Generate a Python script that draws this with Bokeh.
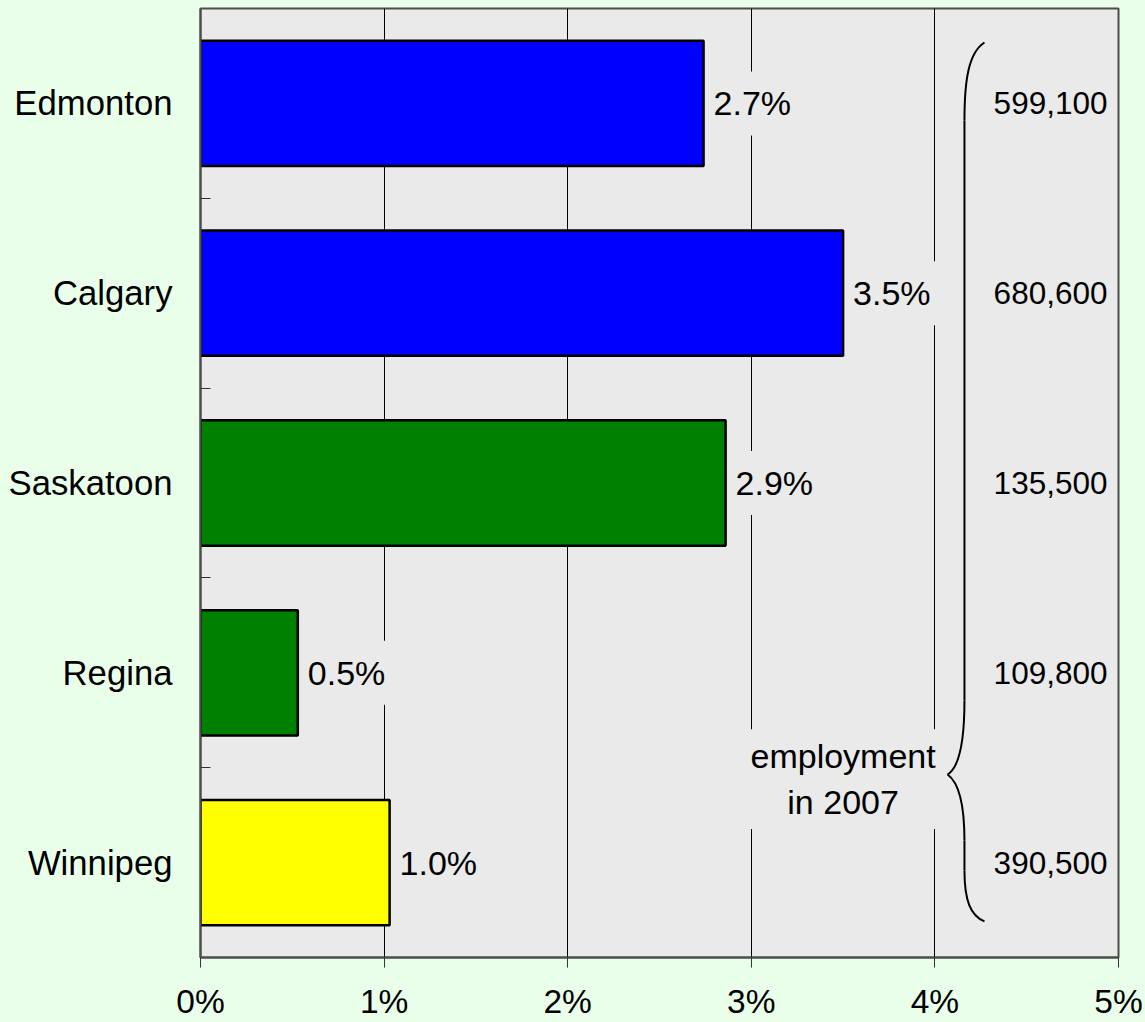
from bokeh.plotting import figure
from bokeh.models import ColumnDataSource, Range1d, FixedTicker
from bokeh.core.properties import value
from bokeh.embed import file_html
from bokeh.resources import INLINE

# ---- data ----
cities = ["Edmonton", "Calgary", "Saskatoon", "Regina", "Winnipeg"]
growth = [2.74, 3.50, 2.86, 0.53, 1.03]
growth_labels = ["2.7%", "3.5%", "2.9%", "0.5%", "1.0%"]
employment_2007 = ["599,100", "680,600", "135,500", "109,800", "390,500"]
bar_colors = ["#0000FF", "#0000FF", "#008000", "#008000", "#FFFF00"]
x_ticks = [0, 1, 2, 3, 4, 5]
x_tick_labels = ["0%", "1%", "2%", "3%", "4%", "5%"]

n = len(cities)
ypos = [n - i - 0.5 for i in range(n)]

FONT = value("Liberation Sans")
PAGE_BG = "#EAFFEA"
PLOT_BG = "#EAEAEA"

src = ColumnDataSource(dict(y=ypos, city=cities, value=growth, label=growth_labels,
                            emp=employment_2007, color=bar_colors,
                            emp_x=[4.94] * n))

p = figure(width=1145, height=1022, output_backend="svg", toolbar_location=None,
           x_range=Range1d(0, 5), y_range=Range1d(0, n),
           min_border_left=200, min_border_right=27, min_border_top=8, min_border_bottom=65)

p.background_fill_color = PLOT_BG
p.border_fill_color = PAGE_BG
p.outline_line_color = "#4d4d4d"
p.outline_line_width = 2

# x axis
p.xaxis.ticker = FixedTicker(ticks=x_ticks, minor_ticks=[])
p.xaxis.major_label_overrides = {t: l for t, l in zip(x_ticks, x_tick_labels)}
p.xaxis.major_label_text_font = "Liberation Sans"
p.xaxis.major_label_text_font_size = "33.5px"
p.xaxis.major_label_text_color = "black"
p.xaxis.major_tick_out = 10
p.xaxis.major_tick_in = 0
p.xaxis.minor_tick_out = 0
p.xaxis.minor_tick_in = 0
p.xaxis.major_tick_line_color = "#333333"
p.xaxis.axis_line_color = "#4d4d4d"
p.xaxis.axis_line_width = 2
p.xaxis.major_label_standoff = 15

# y axis
p.yaxis.ticker = FixedTicker(ticks=ypos, minor_ticks=[k for k in range(1, n)])
p.yaxis.major_label_overrides = {y: c for y, c in zip(ypos, cities)}
p.yaxis.major_label_text_font = "Liberation Sans"
p.yaxis.major_label_text_font_size = "34.7px"
p.yaxis.major_label_text_color = "black"
p.yaxis.major_tick_line_color = None
p.yaxis.major_tick_out = 0
p.yaxis.major_tick_in = 0
p.yaxis.minor_tick_in = 10
p.yaxis.minor_tick_out = 0
p.yaxis.minor_tick_line_color = "#333333"
p.yaxis.axis_line_color = "#4d4d4d"
p.yaxis.axis_line_width = 2
p.yaxis.major_label_standoff = 28

# grid
p.xgrid.grid_line_color = "black"
p.xgrid.grid_line_width = 1
p.ygrid.grid_line_color = None

# bars
p.hbar(y="y", left=0, right="value", height=0.66, fill_color="color",
       line_color="black", line_width=2.5, source=src)

# value labels
p.text(x="value", y="y", text="label", x_offset=4, text_align="left",
       text_baseline="middle", text_font=FONT, text_font_size="34px",
       text_color="black", background_fill_color=PLOT_BG,
       padding=dict(left=6, right=6, top=13, bottom=13), source=src)

# employment numbers
p.text(x="emp_x", y="y", text="emp", text_align="right", text_baseline="middle",
       text_font=FONT, text_font_size="31.5px", text_color="black", source=src)

# brace
bx0 = [4.270, 4.161, 4.069, 4.161]
by0 = [4.821, 1.354, 0.964, 0.458]
bx1 = [4.161, 4.069, 4.161, 4.270]
by1 = [4.410, 0.964, 0.616, 0.190]
bcx0 = [4.183, 4.161, 4.123, 4.161]
bcy0 = [4.768, 1.117, 0.927, 0.300]
bcx1 = [4.161, 4.123, 4.161, 4.194]
bcy1 = [4.621, 0.996, 0.827, 0.221]
p.bezier(x0=bx0, y0=by0, x1=bx1, y1=by1, cx0=bcx0, cy0=bcy0, cx1=bcx1, cy1=bcy1,
         line_color="black", line_width=2)
p.segment(x0=[4.161, 4.161], y0=[4.410, 0.616], x1=[4.161, 4.161], y1=[1.354, 0.458],
          line_color="black", line_width=2)

# brace caption
p.text(x=[3.5], y=[0.94], text=["employment\nin 2007"], text_align="center",
       text_baseline="middle", text_font=FONT, text_font_size="34px", text_color="black",
       background_fill_color=PLOT_BG, padding=dict(left=4, right=4, top=8, bottom=8))

html = file_html(p, INLINE)
html = html.replace("<head>", "<head><style>html, body {background: %s;}</style>" % PAGE_BG, 1)
open("out.html", "w").write(html)
